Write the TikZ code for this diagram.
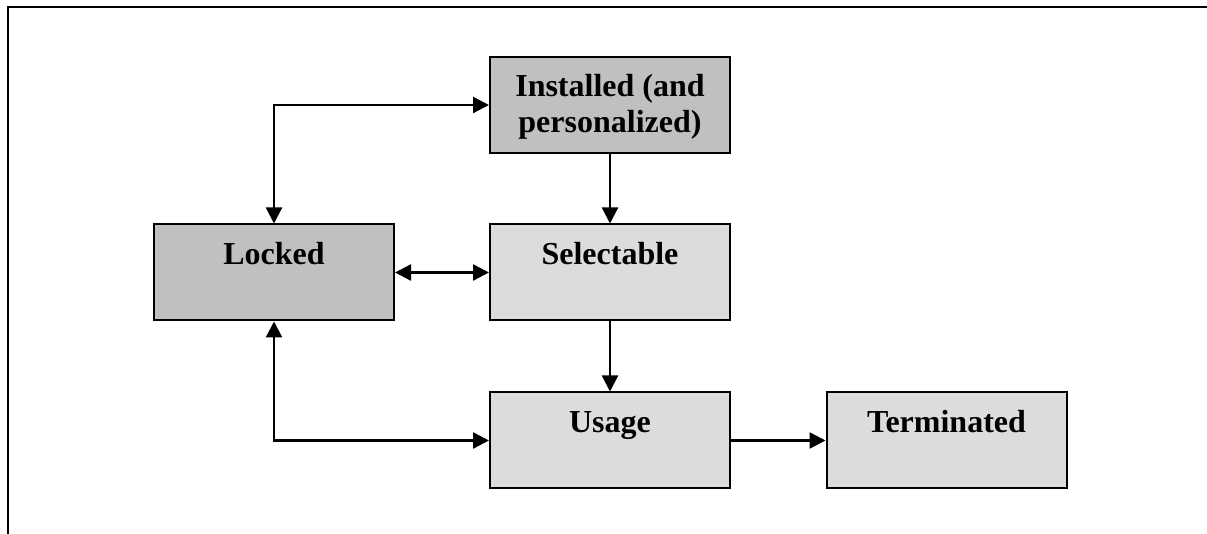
\documentclass[tikz,border=0pt]{standalone}
\usepackage{fontspec}
\setmainfont{Liberation Serif}
\usetikzlibrary{arrows.meta}
\definecolor{darkgrey}{HTML}{C0C0C0}
\definecolor{lightgrey}{HTML}{DCDCDC}

\begin{document}
\begin{tikzpicture}
		[x=0.5pt, y=-0.5pt,
		every node/.style={font=\fontsize{16}{18}\selectfont\bfseries},
		state/.style={draw, line width=1pt, inner sep=0pt, minimum width=120pt, align=center, text height=20pt, text depth=28pt},
		darkstate/.style={state, fill=darkgrey},
		lightstate/.style={state, fill=lightgrey},
		twolines/.style={text height=38pt, text depth=10pt},
		trans/.style={line width=1.2pt, -{Triangle[length=8pt, width=8pt]}},
		twoway/.style={line width=1.2pt, {Triangle[length=8pt, width=8pt]}-{Triangle[length=8pt, width=8pt]}}
		]
		\useasboundingbox (0,0) rectangle (1207,534);
		\draw[line width=1pt] (8,534) -- (8,7.5) -- (1207,7.5);
		\begin{scope}
			\node[darkstate, twolines] (I) at (610, 105) {Installed (and\\personalized)};
			\node[darkstate] (L) at (274, 272.5) {Locked};
			\node[lightstate] (S) at (610, 272.5) {Selectable};
			\node[lightstate] (U) at (610, 440.5) {Usage};
			\node[lightstate] (T) at (946.5, 440.5) {Terminated};
		\end{scope}
		\draw[twoway] (L.north) |- (I.west);
		\draw[trans] (I) -- (S);
		\draw[twoway] (L) -- (S);
		\draw[trans] (S) -- (U);
		\draw[twoway] (L.south) |- (U.west);
		\draw[trans] (U) -- (T);
	\end{tikzpicture}
\end{document}
